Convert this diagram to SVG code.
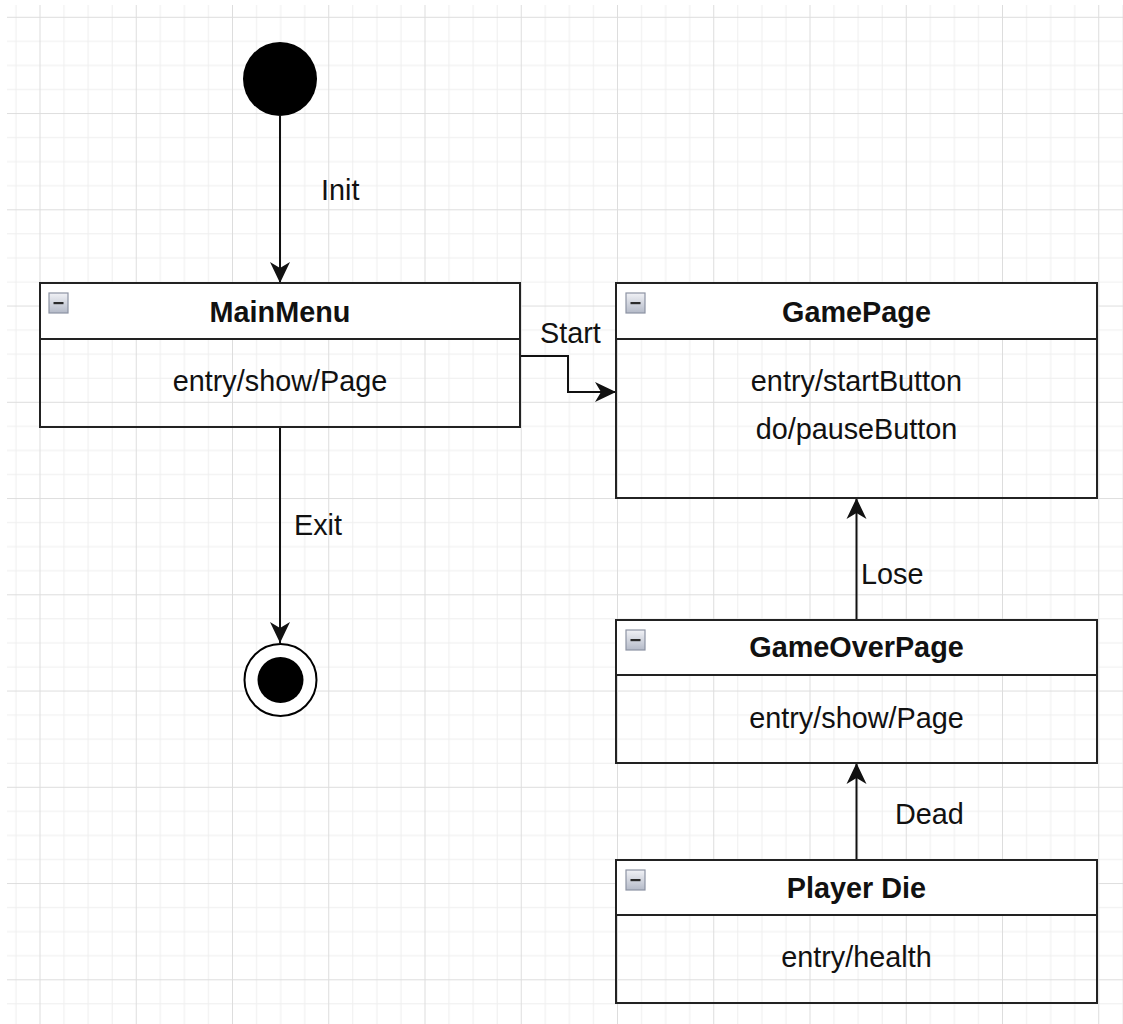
<svg xmlns="http://www.w3.org/2000/svg" width="1123" height="1024" viewBox="0 0 1123 1024">
  <style>
    .box { fill: none; stroke: #222; stroke-width: 2; }
    .head { fill: #fff; stroke: #222; stroke-width: 2; }
    .title { font-family: "Liberation Sans", Arial, sans-serif; font-size: 28.8px; font-weight: bold; fill: #111; text-anchor: middle; }
    .body { font-family: "Liberation Sans", Arial, sans-serif; font-size: 28.8px; fill: #111; text-anchor: middle; }
    .lbl { font-family: "Liberation Sans", Arial, sans-serif; font-size: 28.8px; fill: #111; }
    .edge { fill: none; stroke: #111; stroke-width: 2; marker-end: url(#arrow); }
    .icon { fill: url(#iconGrad); stroke: #8d93a3; stroke-width: 1.2; }
    .dash { fill: #2a2a2a; }
  </style>
  <defs>
    <pattern id="grid" patternUnits="userSpaceOnUse" x="39.5" y="16.8" width="96.25" height="96.25">
      <rect x="24.06" y="0" width="1" height="96.25" fill="#eeeeee"/>
      <rect x="48.13" y="0" width="1" height="96.25" fill="#eeeeee"/>
      <rect x="72.19" y="0" width="1" height="96.25" fill="#eeeeee"/>
      <rect x="0" y="24.06" width="96.25" height="1" fill="#eeeeee"/>
      <rect x="0" y="48.13" width="96.25" height="1" fill="#eeeeee"/>
      <rect x="0" y="72.19" width="96.25" height="1" fill="#eeeeee"/>
      <rect x="0" y="0" width="1" height="96.25" fill="#dddddd"/>
      <rect x="0" y="0" width="96.25" height="1" fill="#dddddd"/>
    </pattern>
    <linearGradient id="iconGrad" x1="0" y1="0" x2="0" y2="1">
      <stop offset="0" stop-color="#f1f2f6"/>
      <stop offset="1" stop-color="#b4bac8"/>
    </linearGradient>
    <marker id="arrow" markerUnits="userSpaceOnUse" markerWidth="24" markerHeight="24" refX="21" refY="10" orient="auto" overflow="visible">
      <path d="M0,0 L21,10 L0,20 L6,10 Z" fill="#111"/>
    </marker>
  </defs>

  <!-- canvas and grid -->
  <rect x="0" y="0" width="1123" height="1024" fill="#fff"/>
  <rect x="7" y="5" width="1116" height="1019" fill="url(#grid)"/>

  <!-- transitions -->
  <g id="connectors">
    <path class="edge" d="M280,116 V283"/>
    <path class="edge" d="M280,427 V643"/>
    <path class="edge" d="M520,356 H568 V392 H616"/>
    <path class="edge" d="M856.5,620 V498"/>
    <path class="edge" d="M856.5,860 V763"/>
    <text class="lbl" x="321" y="199.5">Init</text>
    <text class="lbl" x="294" y="535">Exit</text>
    <text class="lbl" x="540" y="343">Start</text>
    <text class="lbl" x="861" y="584">Lose</text>
    <text class="lbl" x="895" y="823.5">Dead</text>
  </g>

  <!-- initial pseudo-state -->
  <g id="initial">
    <circle cx="280" cy="79" r="37" fill="#000"/>
  </g>

  <!-- final state -->
  <g id="final">
    <circle cx="280.5" cy="680" r="36" fill="#fff" stroke="#000" stroke-width="2"/>
    <circle cx="280.5" cy="680" r="23" fill="#000"/>
  </g>

  <g id="mainMenu">
    <rect class="head" x="40" y="283" width="480" height="56"/>
    <rect class="box" x="40" y="283" width="480" height="144"/>
    <rect class="icon" x="49" y="293" width="19" height="20"/>
    <rect class="dash" x="53.5" y="302" width="10" height="2.2"/>
    <text class="title" x="280" y="321.5">MainMenu</text>
    <text class="body" x="280" y="391">entry/show/Page</text>
  </g>

  <g id="gamePage">
    <rect class="head" x="616" y="283" width="481" height="56"/>
    <rect class="box" x="616" y="283" width="481" height="215"/>
    <rect class="icon" x="626" y="293" width="19" height="20"/>
    <rect class="dash" x="630.5" y="302" width="10" height="2.2"/>
    <text class="title" x="856.5" y="321.5">GamePage</text>
    <text class="body" x="856.5" y="391">entry/startButton</text>
    <text class="body" x="856.5" y="439">do/pauseButton</text>
  </g>

  <g id="gameOverPage">
    <rect class="head" x="616" y="620" width="481" height="55"/>
    <rect class="box" x="616" y="620" width="481" height="143"/>
    <rect class="icon" x="626" y="630" width="19" height="20"/>
    <rect class="dash" x="630.5" y="639" width="10" height="2.2"/>
    <text class="title" x="856.5" y="657">GameOverPage</text>
    <text class="body" x="856.5" y="727.5">entry/show/Page</text>
  </g>

  <g id="playerDie">
    <rect class="head" x="616" y="860" width="481" height="55"/>
    <rect class="box" x="616" y="860" width="481" height="143"/>
    <rect class="icon" x="626" y="870" width="19" height="20"/>
    <rect class="dash" x="630.5" y="879" width="10" height="2.2"/>
    <text class="title" x="856.5" y="897.5">Player Die</text>
    <text class="body" x="856.5" y="967">entry/health</text>
  </g>
</svg>
